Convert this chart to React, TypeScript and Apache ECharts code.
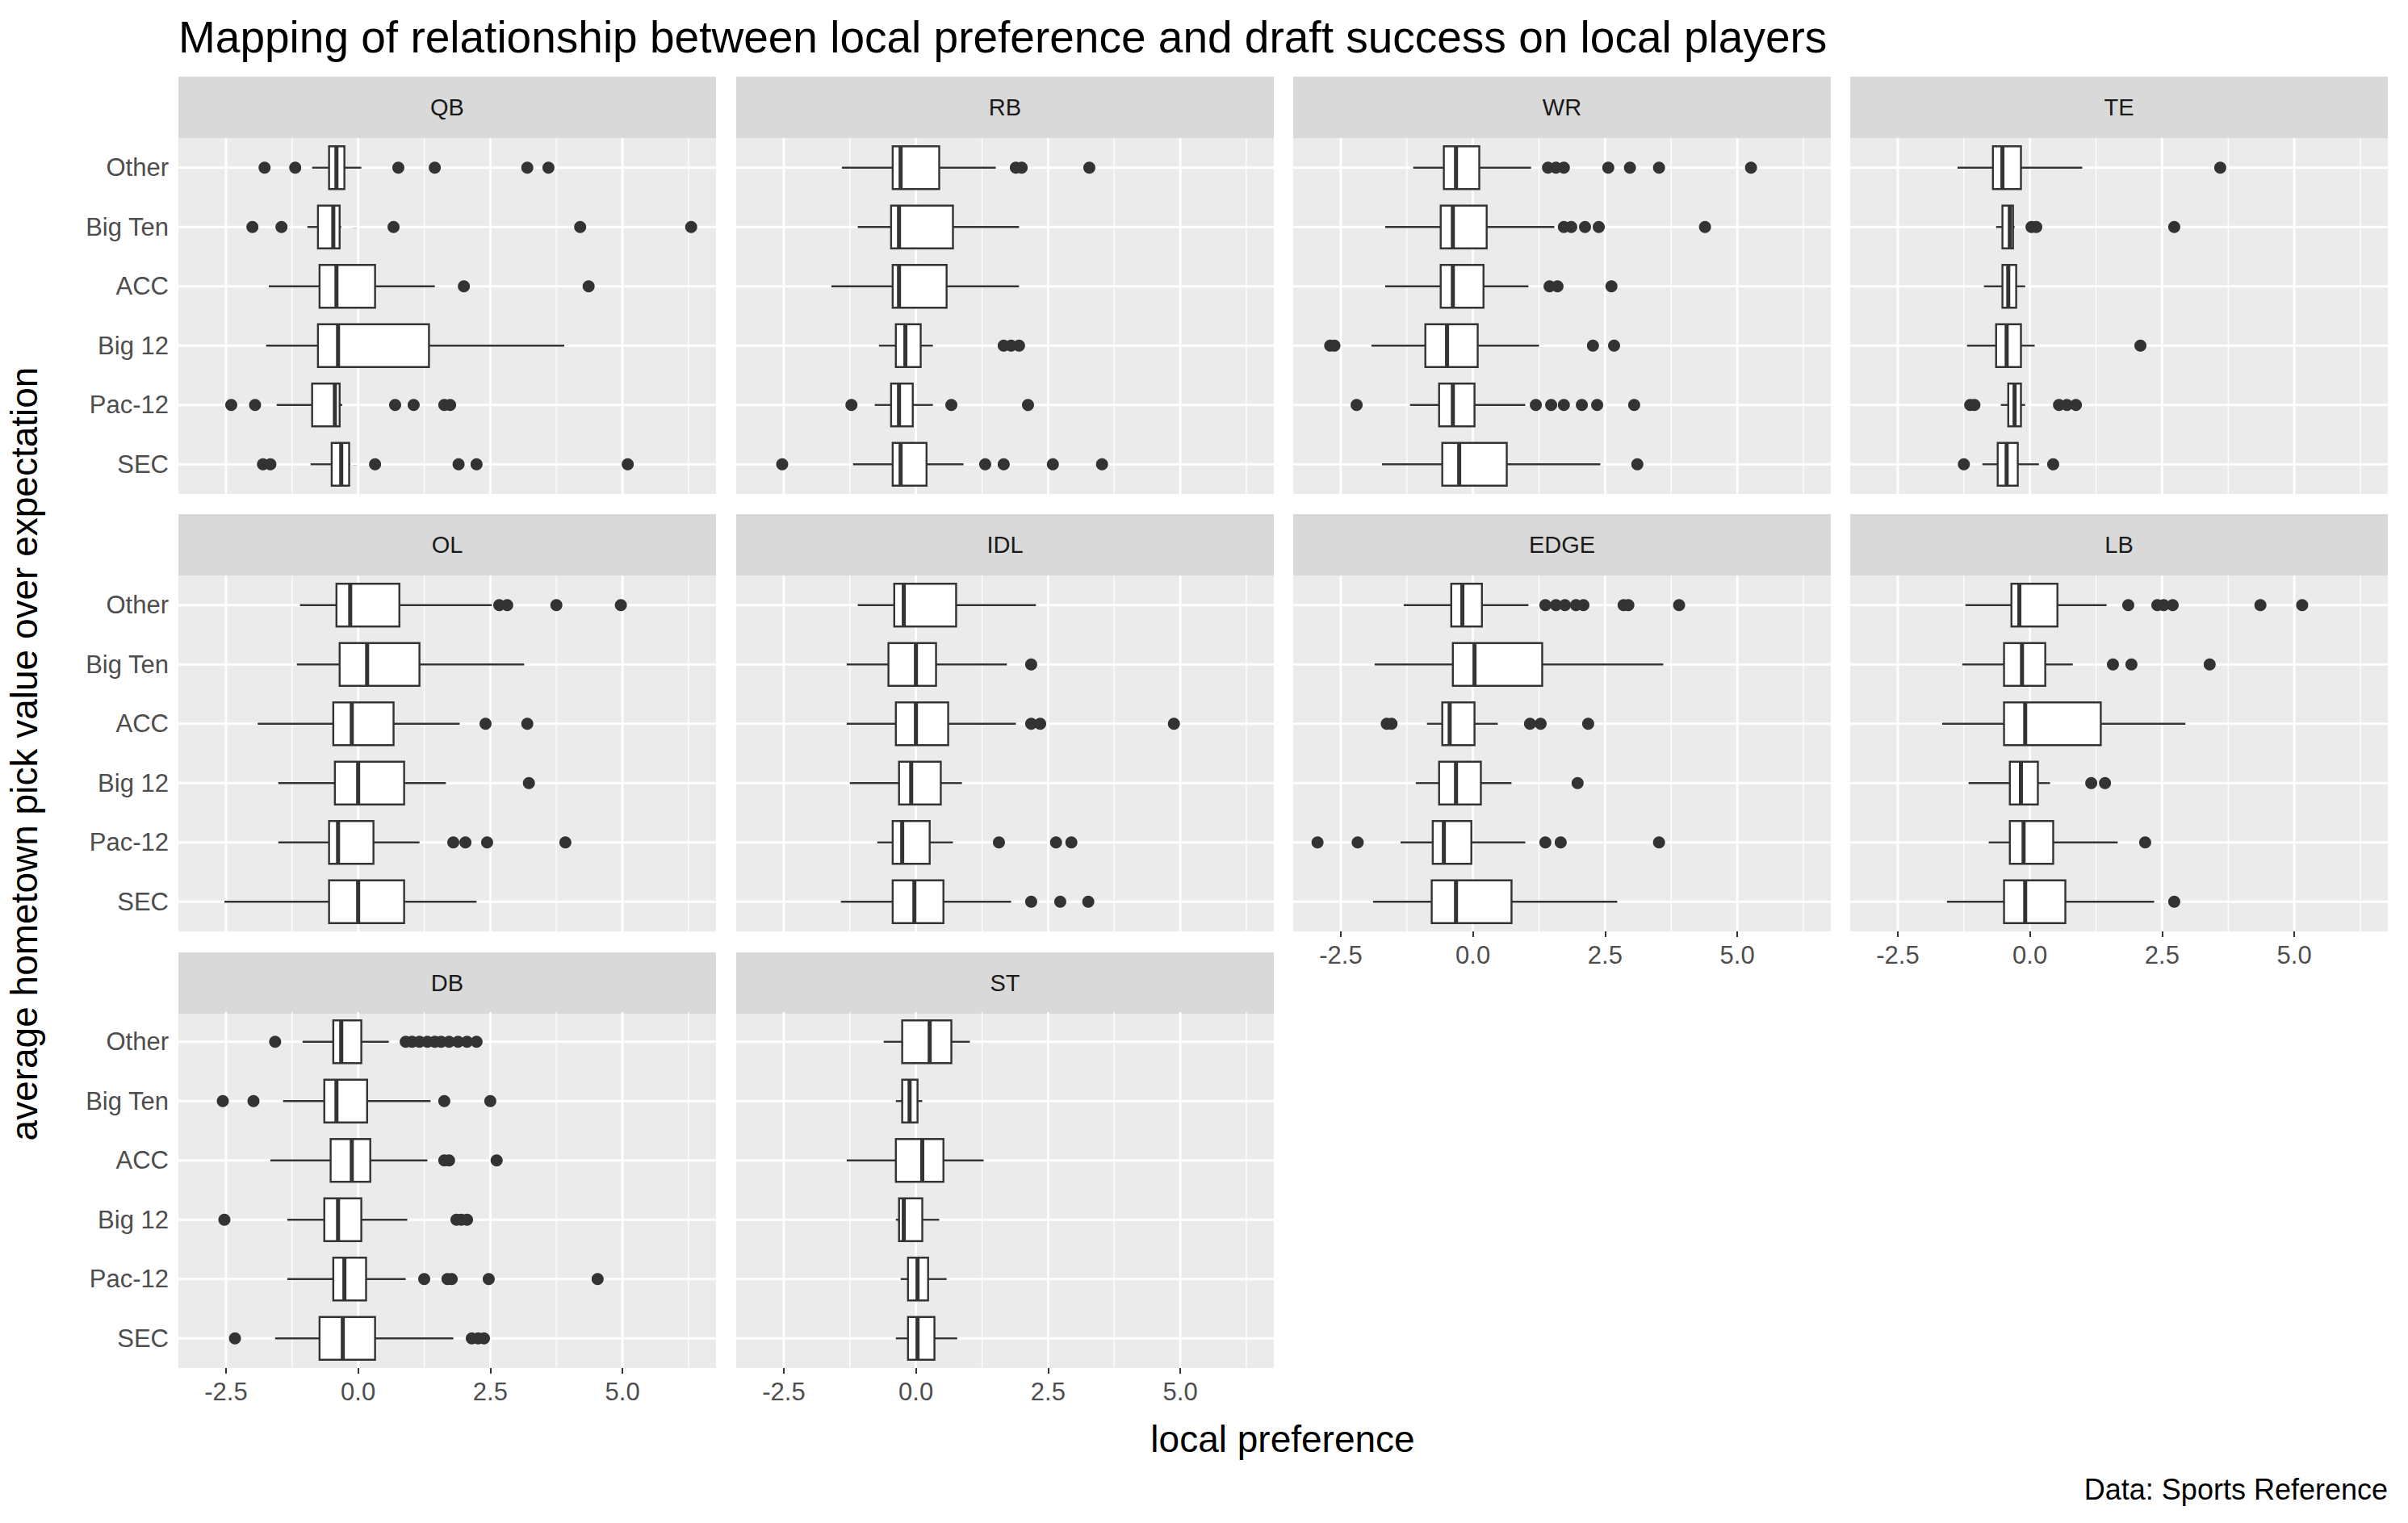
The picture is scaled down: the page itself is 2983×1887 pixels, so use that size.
import React, { useEffect, useRef } from "react";
import * as echarts from "echarts";

const conferences = ["Other", "Big Ten", "ACC", "Big 12", "Pac-12", "SEC"];
const positions = ["QB", "RB", "WR", "TE", "OL", "IDL", "EDGE", "LB", "DB", "ST"];
const xTicks = [-2.5, 0, 2.5, 5.0];
const xMinor = [-1.25, 1.25, 3.75, 6.25];

// [lowWhisker, Q1, median, Q3, highWhisker] per conference (Other..SEC)
const qbBoxes = [[-0.87,-0.55,-0.41,-0.26,0.06],[-0.96,-0.76,-0.47,-0.35,-0.32],[-1.69,-0.73,-0.41,0.32,1.45],[-1.74,-0.76,-0.38,1.34,3.9],[-1.54,-0.87,-0.44,-0.35,-0.3],[-0.9,-0.5,-0.32,-0.17,-0.15]];
const qbOut = [[-1.77,-1.19,0.76,1.45,3.2,3.6],[-2.0,-1.45,0.67,4.2,6.3],[2.0,4.36],[],[-2.4,-1.95,0.7,1.05,1.63,1.74],[-1.8,-1.66,0.32,1.9,2.24,5.1]];
const rbBoxes = [[-1.4,-0.44,-0.29,0.44,1.51],[-1.1,-0.47,-0.32,0.7,1.95],[-1.6,-0.44,-0.32,0.58,1.95],[-0.7,-0.38,-0.2,0.09,0.32],[-0.78,-0.47,-0.32,-0.06,0.32],[-1.19,-0.44,-0.29,0.2,0.9]];
const rbOut = [[1.89,2.0,3.28],[],[],[1.66,1.8,1.95],[-1.22,0.67,2.12],[-2.53,1.31,1.66,2.59,3.52]];
const wrBoxes = [[-1.13,-0.55,-0.32,0.12,1.1],[-1.66,-0.61,-0.38,0.26,1.54],[-1.66,-0.61,-0.38,0.2,1.05],[-1.92,-0.9,-0.49,0.09,1.25],[-1.19,-0.64,-0.38,0.03,0.99],[-1.72,-0.58,-0.26,0.64,2.41]];
const wrOut = [[1.42,1.57,1.72,2.56,2.97,3.52,5.26],[1.72,1.86,2.12,2.38,4.39],[1.45,1.6,2.62],[-2.7,-2.62,2.27,2.67],[-2.2,1.19,1.48,1.72,2.06,2.35,3.05],[3.11]];
const teBoxes = [[-1.37,-0.7,-0.52,-0.17,0.99],[-0.64,-0.52,-0.38,-0.32,-0.29],[-0.87,-0.52,-0.41,-0.26,-0.09],[-1.19,-0.64,-0.44,-0.17,0.09],[-0.55,-0.41,-0.29,-0.17,-0.09],[-0.9,-0.61,-0.44,-0.23,0.17]];
const teOut = [[3.6],[0.03,0.12,2.73],[],[2.09],[-1.13,-1.05,0.55,0.7,0.87],[-1.25,0.44]];
const olBoxes = [[-1.1,-0.41,-0.15,0.78,2.53],[-1.16,-0.35,0.17,1.16,3.14],[-1.9,-0.47,-0.12,0.67,1.92],[-1.51,-0.44,0,0.87,1.66],[-1.51,-0.55,-0.38,0.29,1.16],[-2.53,-0.55,0,0.87,2.24]];
const olOut = [[2.67,2.82,3.75,4.97],[],[2.41,3.2],[3.23],[1.8,2.03,2.44,3.92],[]];
const idlBoxes = [[-1.1,-0.41,-0.23,0.76,2.27],[-1.31,-0.52,0,0.38,1.72],[-1.31,-0.38,0,0.61,1.89],[-1.25,-0.32,-0.09,0.47,0.87],[-0.73,-0.44,-0.26,0.26,0.7],[-1.42,-0.44,-0.03,0.52,1.8]];
const idlOut = [[],[2.18],[2.18,2.35,4.88],[],[1.57,2.65,2.94],[2.18,2.73,3.26]];
const edgeBoxes = [[-1.31,-0.41,-0.2,0.17,1.05],[-1.86,-0.38,0.03,1.31,3.6],[-0.87,-0.58,-0.44,0.03,0.47],[-1.08,-0.64,-0.32,0.15,0.73],[-1.37,-0.76,-0.55,-0.03,0.99],[-1.89,-0.78,-0.32,0.73,2.73]];
const edgeOut = [[1.37,1.57,1.74,1.95,2.09,2.85,2.94,3.9],[],[-1.63,-1.54,1.08,1.28,2.18],[1.98],[-2.94,-2.18,1.37,1.66,3.52],[]];
const lbBoxes = [[-1.22,-0.35,-0.2,0.52,1.45],[-1.28,-0.49,-0.15,0.29,0.81],[-1.66,-0.49,-0.09,1.34,2.94],[-1.16,-0.38,-0.17,0.15,0.38],[-0.78,-0.38,-0.12,0.44,1.66],[-1.57,-0.49,-0.09,0.67,2.35]];
const lbOut = [[1.86,2.41,2.53,2.7,4.36,5.15],[1.57,1.92,3.4],[],[1.16,1.42],[2.18],[2.73]];
const dbBoxes = [[-1.05,-0.47,-0.32,0.06,0.58],[-1.42,-0.64,-0.41,0.17,1.37],[-1.66,-0.52,-0.12,0.23,1.31],[-1.34,-0.64,-0.38,0.06,0.93],[-1.34,-0.47,-0.26,0.15,0.9],[-1.57,-0.73,-0.29,0.32,1.8]];
const dbOut = [[-1.57,0.9,1.02,1.16,1.31,1.45,1.57,1.72,1.89,2.06,2.24],[-2.56,-1.98,1.63,2.5],[1.63,1.72,2.62],[-2.53,1.86,1.95,2.06],[1.25,1.69,1.77,2.47,4.53],[-2.33,2.15,2.27,2.38]];
const stBoxes = [[-0.61,-0.26,0.26,0.67,1.02],[-0.38,-0.26,-0.12,0.03,0.12],[-1.31,-0.38,0.12,0.52,1.28],[-0.38,-0.32,-0.23,0.12,0.44],[-0.29,-0.15,0.03,0.23,0.58],[-0.38,-0.15,0.03,0.35,0.78]];
const stOut = [[],[],[],[],[],[]];

const boxesByPos = [qbBoxes, rbBoxes, wrBoxes, teBoxes, olBoxes, idlBoxes, edgeBoxes, lbBoxes, dbBoxes, stBoxes];
const outByPos = [qbOut, rbOut, wrOut, teOut, olOut, idlOut, edgeOut, lbOut, dbOut, stOut];

const FONT = "Liberation Sans, Arial, sans-serif";
const colLeft = [221, 912, 1602, 2292];
const panelW = 666;
const stripTop = [95, 637, 1180];
const stripH = 76;
const panelTop = [171, 713, 1254];
const panelH = 441;

export default function App() {
  const ref = useRef<HTMLDivElement>(null);
  useEffect(() => {
    document.body.style.margin = "0";
    const chart = echarts.init(ref.current!, null, { renderer: "svg" });
    const grids: any[] = [];
    const xAxes: any[] = [];
    const yAxes: any[] = [];
    const series: any[] = [];
    const graphics: any[] = [];
    positions.forEach((pos, k) => {
      const row = Math.floor(k / 4);
      const col = k % 4;
      grids.push({
        left: colLeft[col], top: panelTop[row], width: panelW, height: panelH,
        show: true, backgroundColor: "#EBEBEB", borderWidth: 0,
      });
      const showX = row === 2 || (row === 1 && col >= 2);
      xAxes.push({
        type: "value", gridIndex: k, min: -3.4, max: 6.77,
        axisLine: { show: false },
        splitLine: { show: false },
        axisTick: { show: showX, customValues: xTicks, length: 7, lineStyle: { color: "#333", width: 2 } },
        axisLabel: {
          show: showX, customValues: xTicks, formatter: (v: number) => v.toFixed(1),
          fontFamily: FONT, fontSize: 31, color: "#4D4D4D", margin: 14,
        },
      });
      yAxes.push({
        type: "category", gridIndex: k, data: conferences, inverse: true,
        axisLine: { show: false }, splitLine: { show: false },
        axisTick: { show: col === 0, alignWithLabel: true, length: 7, lineStyle: { color: "#333", width: 2 } },
        axisLabel: { show: col === 0, fontFamily: FONT, fontSize: 31, color: "#4D4D4D", margin: 12 },
      });
      series.push({
        type: "custom", xAxisIndex: k, yAxisIndex: k, z: 1, silent: true,
        data: [[0, 0]], encode: { x: 0, y: 1 },
        renderItem: (params: any, api: any) => {
          const cs = params.coordSys;
          const ch: any[] = [];
          xMinor.forEach((v) => {
            const x = api.coord([v, 0])[0];
            ch.push({ type: "line", shape: { x1: x, y1: cs.y, x2: x, y2: cs.y + cs.height }, style: { stroke: "#fff", lineWidth: 1.3 } });
          });
          xTicks.forEach((v) => {
            const x = api.coord([v, 0])[0];
            ch.push({ type: "line", shape: { x1: x, y1: cs.y, x2: x, y2: cs.y + cs.height }, style: { stroke: "#fff", lineWidth: 2.8 } });
          });
          conferences.forEach((_, i) => {
            const y = api.coord([0, i])[1];
            ch.push({ type: "line", shape: { x1: cs.x, y1: y, x2: cs.x + cs.width, y2: y }, style: { stroke: "#fff", lineWidth: 2.8 } });
          });
          return { type: "group", children: ch };
        },
      });
      series.push({
        type: "custom", xAxisIndex: k, yAxisIndex: k, z: 2, silent: true,
        data: boxesByPos[k].map((b, i) => [i, ...b]),
        encode: { x: [1, 2, 3, 4, 5], y: 0 },
        renderItem: (params: any, api: any) => {
          const yi = api.value(0);
          const p = [1, 2, 3, 4, 5].map((d) => api.coord([api.value(d), yi]));
          const yc = p[0][1];
          const h = api.size([0, 1])[1] * 0.72;
          const stroke = "#333333";
          return {
            type: "group",
            children: [
              { type: "line", shape: { x1: p[0][0], y1: yc, x2: p[1][0], y2: yc }, style: { stroke, lineWidth: 2.4 } },
              { type: "line", shape: { x1: p[3][0], y1: yc, x2: p[4][0], y2: yc }, style: { stroke, lineWidth: 2.4 } },
              { type: "rect", shape: { x: p[1][0], y: yc - h / 2, width: p[3][0] - p[1][0], height: h }, style: { fill: "#fff", stroke, lineWidth: 2.4 } },
              { type: "line", shape: { x1: p[2][0], y1: yc - h / 2, x2: p[2][0], y2: yc + h / 2 }, style: { stroke, lineWidth: 5 } },
            ],
          };
        },
      });
      const pts: number[][] = [];
      outByPos[k].forEach((arr, i) => arr.forEach((v) => pts.push([v, i])));
      series.push({
        type: "scatter", xAxisIndex: k, yAxisIndex: k, z: 3, silent: true,
        symbolSize: 15, itemStyle: { color: "#333333", opacity: 1 }, data: pts,
      });
      graphics.push({
        type: "rect", shape: { x: colLeft[col], y: stripTop[row], width: panelW, height: stripH },
        style: { fill: "#D9D9D9" },
      });
      graphics.push({
        type: "text", x: colLeft[col] + panelW / 2, y: stripTop[row] + stripH / 2,
        style: { text: pos, fontFamily: FONT, fontSize: 29, fill: "#1A1A1A", align: "center", verticalAlign: "middle" },
      });
    });
    graphics.push({
      type: "text", x: 221, y: 46,
      style: { text: "Mapping of relationship between local preference and draft success on local players", fontFamily: FONT, fontSize: 55, fill: "#000", verticalAlign: "middle" },
    });
    graphics.push({
      type: "text", x: 1589, y: 1783,
      style: { text: "local preference", fontFamily: FONT, fontSize: 46, fill: "#000", align: "center", verticalAlign: "middle" },
    });
    graphics.push({
      type: "text", x: 30, y: 934, rotation: Math.PI / 2,
      style: { text: "average hometown pick value over expectation", fontFamily: FONT, fontSize: 46, fill: "#000", align: "center", verticalAlign: "middle" },
    });
    graphics.push({
      type: "text", x: 2958, y: 1845,
      style: { text: "Data: Sports Reference", fontFamily: FONT, fontSize: 36, fill: "#000", align: "right", verticalAlign: "middle" },
    });
    chart.setOption({
      animation: false,
      backgroundColor: "#fff",
      grid: grids, xAxis: xAxes, yAxis: yAxes, series, graphic: graphics,
    });
    return () => chart.dispose();
  }, []);
  return <div ref={ref} style={{ width: 2983, height: 1887 }} />;
}
